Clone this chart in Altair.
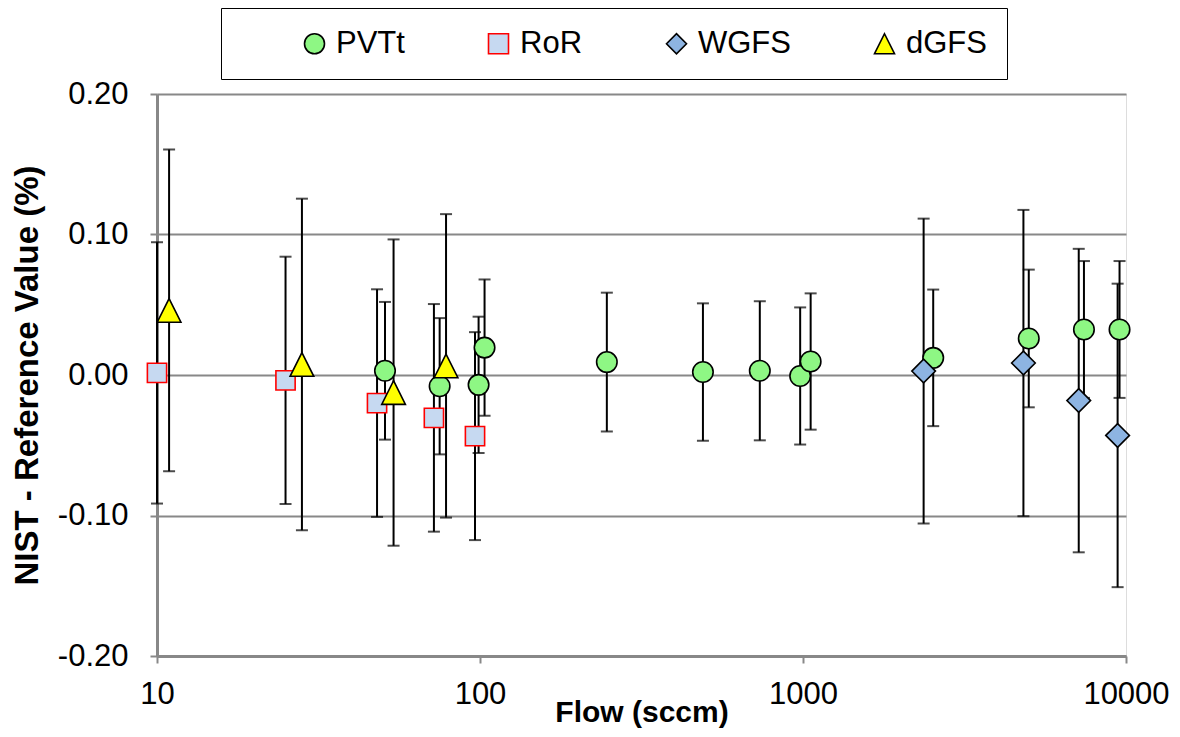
import altair as alt
import pandas as pd

series_names = ["PVTt", "RoR", "WGFS", "dGFS"]

pvtt_x = [50.8, 75, 99, 103.3, 247, 490, 735, 980, 1056, 2530, 5000, 7410, 9550]
pvtt_y = [0.003, -0.008, -0.007, 0.0195, 0.0092, 0.0021, 0.0030, -0.0007, 0.0096, 0.0122, 0.026, 0.0324, 0.0324]
pvtt_err = [0.049, 0.0485, 0.0485, 0.0485, 0.0494, 0.0489, 0.0495, 0.0488, 0.0485, 0.0486, 0.049, 0.0487, 0.0487]

ror_x = [10, 25, 48, 72, 96.5]
ror_y = [0.0015, -0.0038, -0.020, -0.0305, -0.0435]
ror_err = [0.093, 0.088, 0.081, 0.081, 0.074]

wgfs_x = [2363, 4813, 7140, 9420]
wgfs_y = [0.0028, 0.0085, -0.0182, -0.043]
wgfs_err = [0.1085, 0.109, 0.108, 0.108]

dgfs_x = [10.9, 28.1, 54.0, 78.5]
dgfs_y = [0.046, 0.0075, -0.0125, 0.0065]
dgfs_err = [0.1145, 0.118, 0.109, 0.108]

fills = ["#8ef784", "#c6d9f1", "#8db4e2", "#ffff00"]
strokes = ["#000000", "#ff0000", "#000000", "#000000"]
shapes = ["circle", "square", "diamond", "M0,-1L1,1L-1,1Z"]
sizes = [420, 370, 560, 560]

rows = []
for name, xs, ys, es in [("PVTt", pvtt_x, pvtt_y, pvtt_err),
                         ("RoR", ror_x, ror_y, ror_err),
                         ("WGFS", wgfs_x, wgfs_y, wgfs_err),
                         ("dGFS", dgfs_x, dgfs_y, dgfs_err)]:
    for x, y, e in zip(xs, ys, es):
        rows.append({"series": name, "flow": x, "diff": y, "err": e})
df = pd.DataFrame(rows)

FONT = "Liberation Sans"

x_enc = alt.X(
    "flow:Q",
    scale=alt.Scale(type="log", domain=[10, 10000], nice=False),
    axis=alt.Axis(
        values=[10, 100, 1000, 10000], format="d", title="Flow (sccm)",
        grid=False, domainColor="#888888", domainWidth=3, tickColor="#888888",
        tickWidth=2, tickSize=7, labelFontSize=31, labelPadding=16, labelColor="black",
        labelFont=FONT, titleFont=FONT, titleFontSize=30, titleFontWeight="bold",
        titleColor="black", titlePadding=-12, labelFlush=False, labelOverlap=False,
    ),
)

y_axis = alt.Axis(
    values=[-0.2, -0.1, 0, 0.1, 0.2],
    labelExpr="datum.value < -0.0001 ? '-' + format(-datum.value, '.2f') : format(abs(datum.value), '.2f')",
    title="NIST - Reference Value (%)",
    grid=True, gridColor="#888888", gridWidth=2,
    domainColor="#888888", domainWidth=3, tickColor="#888888", tickWidth=2, tickSize=7,
    labelFontSize=31, labelPadding=22, labelColor="black", labelFont=FONT,
    titleFont=FONT, titleFontSize=33, titleFontWeight="bold", titleColor="black",
    titlePadding=13, labelFlush=False, labelOverlap=False,
)
y_scale = alt.Scale(domain=[-0.2, 0.2], nice=False, zero=False)

base = alt.Chart(df).transform_calculate(
    lo="datum.diff - datum.err", hi="datum.diff + datum.err"
)

bars = base.mark_rule(color="black", strokeWidth=2).encode(
    x=x_enc, y=alt.Y("lo:Q", scale=y_scale, axis=y_axis), y2="hi:Q"
)
cap_lo = base.mark_tick(color="black", thickness=2, size=12, orient="horizontal").encode(
    x="flow:Q", y="lo:Q"
)
cap_hi = base.mark_tick(color="black", thickness=2, size=12, orient="horizontal").encode(
    x="flow:Q", y="hi:Q"
)

legend = alt.Legend(
    title="\u00a0", titleOrient="left", titlePadding=58, titleFontSize=10,
    orient="none", direction="horizontal", legendX=64, legendY=-86,
    strokeColor="black", fillColor="white", padding=20,
    labelFont=FONT, labelFontSize=31, labelColor="black", labelOffset=6,
    columnPadding=78, symbolSize=400, symbolStrokeWidth=1.6,
)

fill_enc = alt.Fill("series:N", scale=alt.Scale(domain=series_names, range=fills), legend=legend)
stroke_enc = alt.Stroke("series:N", scale=alt.Scale(domain=series_names, range=strokes), legend=legend)
shape_enc = alt.Shape("series:N", scale=alt.Scale(domain=series_names, range=shapes), legend=legend)

point_layers = []
for name, sz in zip(series_names, sizes):
    point_layers.append(
        base.transform_filter(alt.datum.series == name)
        .mark_point(filled=True, opacity=1, strokeWidth=1.6, strokeOpacity=1, size=sz)
        .encode(
            x="flow:Q",
            y=alt.Y("diff:Q", scale=y_scale),
            fill=fill_enc, stroke=stroke_enc, shape=shape_enc,
        )
    )

chart = alt.layer(bars, cap_lo, cap_hi, *point_layers).properties(
    width=969, height=562,
    autosize=alt.AutoSizeParams(type="none"),
    padding={"left": 149, "top": 86, "right": 46, "bottom": 73},
).configure_view(stroke="black", strokeWidth=2).configure(background="white")

chart.save("out.html", embed_options={"renderer": "svg", "actions": False})
